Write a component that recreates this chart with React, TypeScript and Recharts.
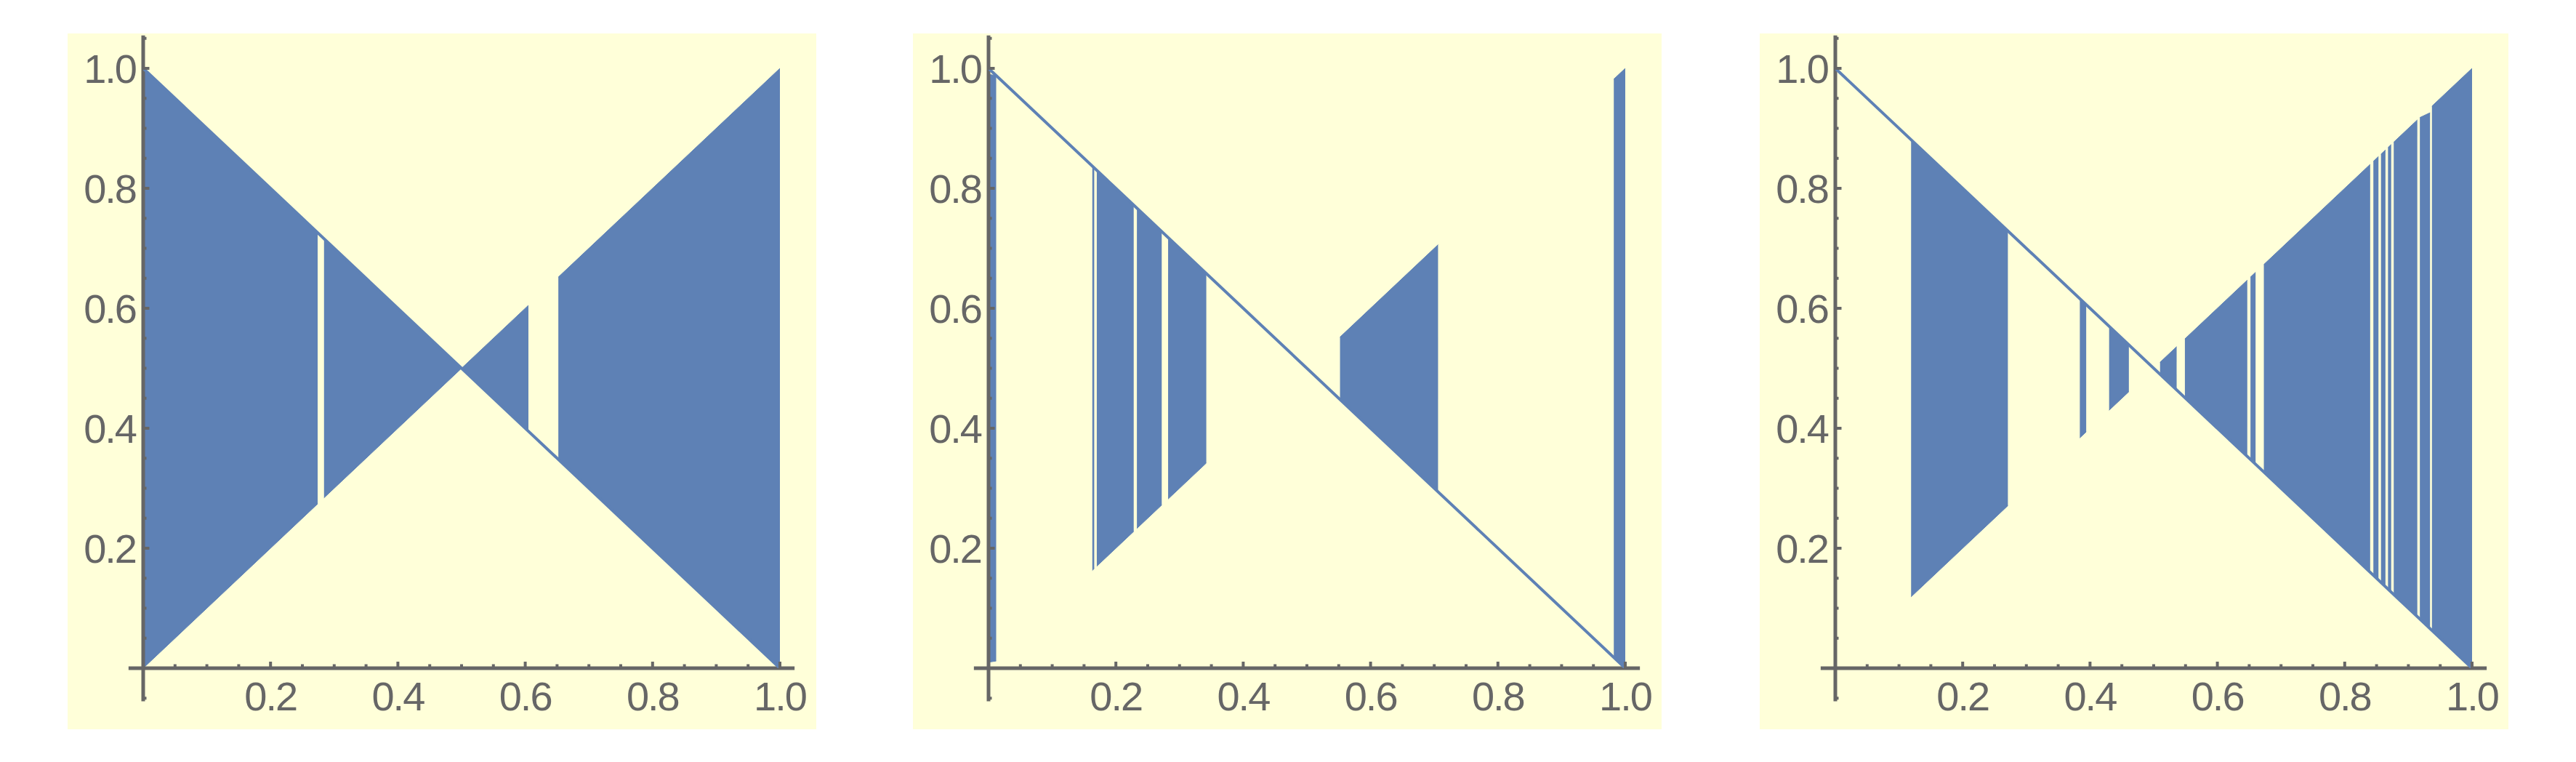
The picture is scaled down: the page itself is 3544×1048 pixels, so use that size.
import {
  Area,
  ComposedChart,
  Line,
  ReferenceDot,
  ReferenceLine,
  XAxis,
  YAxis,
} from "recharts";

const FILL = "#5e81b5";
const AXIS_GRAY = "#666666";
const PANEL_BG = "#ffffd9";

// corner points of each filled band: [x, low, high]
const PANEL_1_BANDS = [
  [[0, 0, 1], [0.274, 0.274, 0.726]],
  [[0.284, 0.284, 0.716], [0.5, 0.5, 0.5], [0.605, 0.395, 0.605]],
  [[0.652, 0.348, 0.652], [1, 0, 1]],
];

const PANEL_2_BANDS = [
  [[0, 0.01, 0.99], [0.012, 0.012, 0.988]],
  [[0.163, 0.163, 0.837], [0.166, 0.166, 0.834]],
  [[0.17, 0.17, 0.83], [0.228, 0.228, 0.772]],
  [[0.233, 0.233, 0.767], [0.272, 0.272, 0.728]],
  [[0.282, 0.282, 0.718], [0.342, 0.342, 0.658]],
  [[0.552, 0.448, 0.552], [0.706, 0.294, 0.706]],
  [[0.982, 0.018, 0.982], [1, 0, 1]],
];

const PANEL_3_BANDS = [
  [[0.119, 0.119, 0.881], [0.271, 0.271, 0.729]],
  [[0.384, 0.384, 0.616], [0.394, 0.394, 0.606]],
  [[0.43, 0.43, 0.57], [0.461, 0.461, 0.539]],
  [[0.51, 0.49, 0.51], [0.536, 0.464, 0.536]],
  [[0.549, 0.451, 0.549], [0.647, 0.353, 0.647]],
  [[0.652, 0.348, 0.652], [0.66, 0.34, 0.66]],
  [[0.673, 0.327, 0.673], [0.84, 0.16, 0.84]],
  [[0.845, 0.155, 0.845], [0.853, 0.147, 0.853]],
  [[0.857, 0.143, 0.857], [0.864, 0.136, 0.864]],
  [[0.868, 0.132, 0.868], [0.873, 0.127, 0.873]],
  [[0.877, 0.123, 0.877], [0.914, 0.086, 0.914]],
  [[0.918, 0.082, 0.918], [0.934, 0.066, 0.926]],
  [[0.937, 0.063, 0.937], [1, 0, 1]],
];

// the falling diagonal drawn under every panel
const DIAGONAL = [
  [0, 1],
  [1, 0],
];

const MAJOR_TICKS = [0.2, 0.4, 0.6, 0.8, 1.0];
const MINOR_X_TICKS = [
  0.05, 0.1, 0.15, 0.25, 0.3, 0.35, 0.45, 0.5, 0.55, 0.65, 0.7, 0.75, 0.85,
  0.9, 0.95,
];
const MINOR_Y_TICKS = [
  -0.05, 0.05, 0.1, 0.15, 0.25, 0.3, 0.35, 0.45, 0.5, 0.55, 0.65, 0.7, 0.75,
  0.85, 0.9, 0.95, 1.05,
];
const TICK_LABELS = ["0.2", "0.4", "0.6", "0.8", "1.0"];

const PANELS = [
  { left: 93, bands: PANEL_1_BANDS },
  { left: 1256, bands: PANEL_2_BANDS },
  { left: 2421, bands: PANEL_3_BANDS },
];

type Row = { x: number; [key: string]: number | number[] };

function buildRows(bands: number[][][]) {
  const rows = new Map<number, Row>();
  const rowAt = (x: number) => {
    if (!rows.has(x)) rows.set(x, { x });
    return rows.get(x)!;
  };
  bands.forEach((band, i) => {
    band.forEach(([x, lo, hi]) => {
      rowAt(x)[`b${i}`] = [lo, hi];
    });
  });
  DIAGONAL.forEach(([x, y]) => {
    rowAt(x).diag = y;
  });
  return [...rows.values()].sort((a, b) => a.x - b.x);
}

const FONT = "'Liberation Sans', Arial, sans-serif";

function xTick(value: number, major: boolean, label?: string) {
  return (
    <ReferenceDot
      key={`x${value}`}
      x={value}
      y={0}
      r={0}
      ifOverflow="visible"
      shape={(props: { cx?: number; cy?: number }) => {
        if (typeof props.cx !== "number" || typeof props.cy !== "number") return <g />;
        return (
          <g transform={`translate(${props.cx}, ${props.cy})`}>
            <line x1={0} x2={0} y1={0} y2={major ? -9 : -5.5} stroke={AXIS_GRAY} strokeWidth={4} />
            {label ? (
              <text
                x={0}
                y={58}
                textAnchor="middle"
                fill={AXIS_GRAY}
                fontSize={56}
                letterSpacing={-2}
                fontFamily={FONT}
              >
                {label}
              </text>
            ) : null}
          </g>
        );
      }}
    />
  );
}

function yTick(value: number, major: boolean, label?: string) {
  return (
    <ReferenceDot
      key={`y${value}`}
      x={0}
      y={value}
      r={0}
      ifOverflow="visible"
      shape={(props: { cx?: number; cy?: number }) => {
        if (typeof props.cx !== "number" || typeof props.cy !== "number") return <g />;
        return (
          <g transform={`translate(${props.cx}, ${props.cy})`}>
            <line x1={0} x2={major ? 8.5 : 4.5} y1={0} y2={0} stroke={AXIS_GRAY} strokeWidth={4} />
            {label ? (
              <text
                x={-10}
                y={20}
                textAnchor="end"
                fill={AXIS_GRAY}
                fontSize={56}
                letterSpacing={-2}
                fontFamily={FONT}
              >
                {label}
              </text>
            ) : null}
          </g>
        );
      }}
    />
  );
}

function Panel({ bands }: { bands: number[][][] }) {
  const rows = buildRows(bands);
  return (
    <ComposedChart
      width={1030}
      height={957}
      data={rows}
      margin={{ top: 48, right: 50, bottom: 84, left: 104 }}
    >
      <XAxis type="number" dataKey="x" domain={[0, 1]} hide allowDataOverflow />
      <YAxis type="number" domain={[0, 1]} hide allowDataOverflow />
      <ReferenceLine
        segment={[
          { x: -0.023, y: 0 },
          { x: 1.023, y: 0 },
        ]}
        stroke={AXIS_GRAY}
        strokeWidth={5}
        ifOverflow="visible"
      />
      <ReferenceLine
        segment={[
          { x: 0, y: -0.055 },
          { x: 0, y: 1.055 },
        ]}
        stroke={AXIS_GRAY}
        strokeWidth={5}
        ifOverflow="visible"
      />
      {MINOR_X_TICKS.map((t) => xTick(t, false))}
      {MAJOR_TICKS.map((t, i) => xTick(t, true, TICK_LABELS[i]))}
      {MINOR_Y_TICKS.map((t) => yTick(t, false))}
      {MAJOR_TICKS.map((t, i) => yTick(t, true, TICK_LABELS[i]))}
      <Line
        dataKey="diag"
        type="linear"
        stroke={FILL}
        strokeWidth={4}
        dot={false}
        connectNulls
        isAnimationActive={false}
      />
      {bands.map((_, i) => (
        <Area
          key={i}
          dataKey={`b${i}`}
          type="linear"
          fill={FILL}
          fillOpacity={1}
          stroke={FILL}
          strokeWidth={1}
          connectNulls
          dot={false}
          activeDot={false}
          isAnimationActive={false}
        />
      ))}
    </ComposedChart>
  );
}

export default function App() {
  return (
    <div
      style={{
        position: "fixed",
        left: 0,
        top: 0,
        width: 3544,
        height: 1048,
        background: "#ffffff",
      }}
    >
      {PANELS.map((p, i) => (
        <div
          key={i}
          style={{
            position: "absolute",
            left: p.left,
            top: 46,
            width: 1030,
            height: 957,
            background: PANEL_BG,
          }}
        >
          <Panel bands={p.bands} />
        </div>
      ))}
    </div>
  );
}
